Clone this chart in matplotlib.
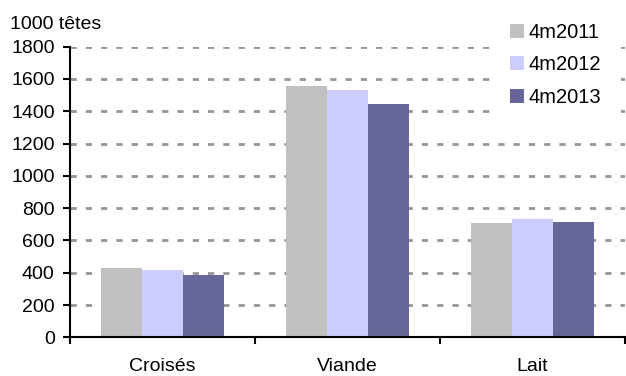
import numpy as np
import matplotlib
matplotlib.use("Agg")
import matplotlib.pyplot as plt

# data (1000 head)
categories = ["Croisés", "Viande", "Lait"]
series_names = ["4m2011", "4m2012", "4m2013"]
v2011 = [427, 1557, 708]
v2012 = [414, 1532, 733]
v2013 = [383, 1445, 714]
y_ticks = [0, 200, 400, 600, 800, 1000, 1200, 1400, 1600, 1800]

colors = ["#C0C0C0", "#CCCCFF", "#666699"]

plt.rcParams["font.family"] = ["Liberation Sans", "DejaVu Sans"]
plt.rcParams["font.size"] = 14
plt.rcParams["lines.scale_dashes"] = False

fig = plt.figure(figsize=(6.26, 3.76), dpi=100)
ax = fig.add_axes([70 / 626, 1 - 337.3 / 376, 555 / 626, (337.3 - 46.7) / 376])

x = np.arange(len(categories))
w = 1 / 4.5
for i, (vals, name) in enumerate(zip([v2011, v2012, v2013], series_names)):
    ax.bar(x + (i - 1) * w, vals, w, color=colors[i], label=name, zorder=2)

ax.set_xlim(-0.5, len(categories) - 0.5)
ax.set_ylim(0, 1800)
ax.set_yticks(y_ticks)
ax.yaxis.grid(True, color="#969696", linewidth=2.0, linestyle=(0, (4.5, 6.5)), zorder=1)
ax.set_axisbelow(True)

ax.set_xticks(x)
ax.set_xticklabels(categories)
ax.set_xticks(np.arange(len(categories) + 1) - 0.5, minor=True)
ax.tick_params(axis="x", which="major", length=0, pad=15)
ax.tick_params(axis="x", which="minor", length=5, width=1.5, direction="out")
ax.tick_params(axis="y", length=5, width=1.5, direction="out", pad=6)

for s in ["top", "right"]:
    ax.spines[s].set_visible(False)
for s in ["left", "bottom"]:
    ax.spines[s].set_linewidth(1.5)

fig.text(10 / 626, 1 - 29 / 376, "1000 têtes", fontsize=14, va="baseline")

# legend sits on a white box that hides the top gridlines
leg = ax.legend(loc="upper left", bbox_to_anchor=(490 / 626, 1 - 3 / 376),
                bbox_transform=fig.transFigure, frameon=True, fancybox=False,
                facecolor="white", edgecolor="none", framealpha=1,
                borderpad=0.98, borderaxespad=0, handlelength=0.7,
                handleheight=0.7, handletextpad=0.25, labelspacing=0.68,
                fontsize=14.5)
leg.set_zorder(5)

fig.savefig("out.png", dpi=100)
